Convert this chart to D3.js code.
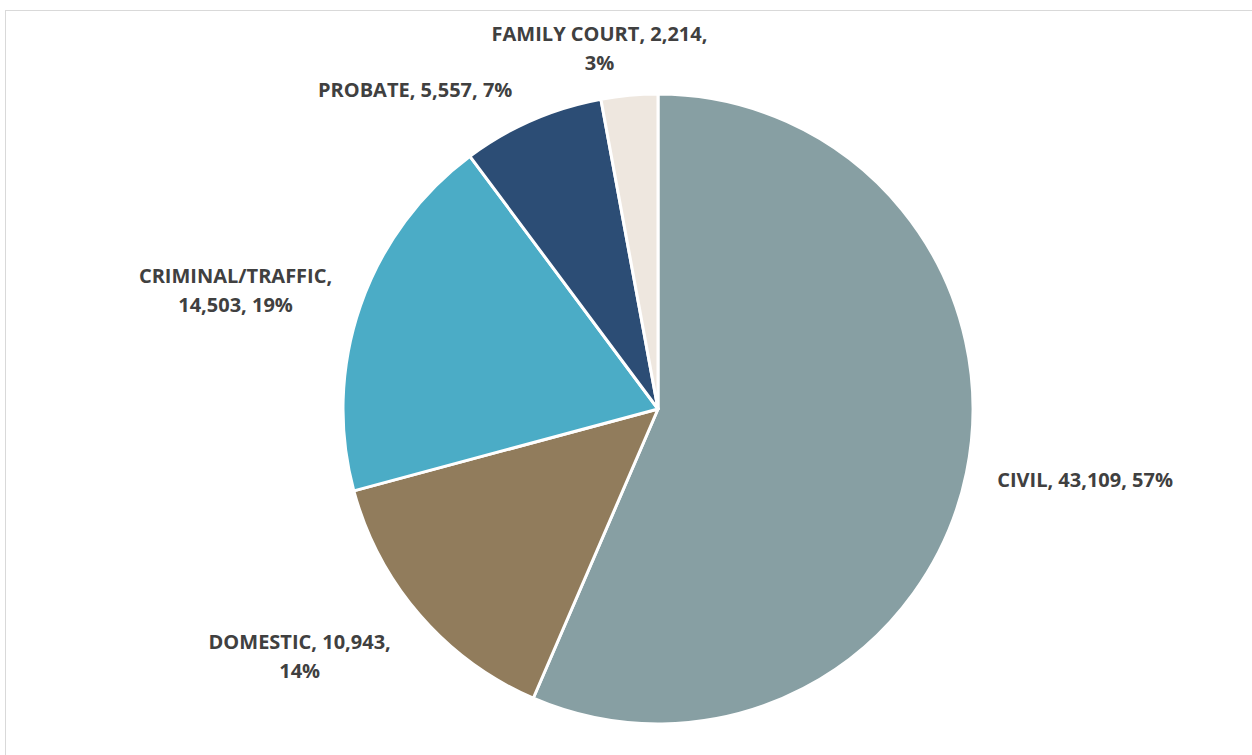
<!DOCTYPE html>
<html>
<head>
<meta charset="utf-8">
<script src="https://cdn.jsdelivr.net/npm/d3@7"></script>
<style>
  body { margin: 0; background: #fff; }
  svg { display: block; }
  .lbl { font-family: "Open Sans", Lato, sans-serif; font-weight: bold; font-size: 20px; fill: #404040; }
</style>
</head>
<body>
<svg id="chart" width="1252" height="755"></svg>
<script>
// case types, clockwise from 12 o'clock
var categories = ['CIVIL', 'DOMESTIC', 'CRIMINAL/TRAFFIC', 'PROBATE', 'FAMILY COURT'];
var values = [43109, 10943, 14503, 5557, 2214];
var colors = ['#879fa3', '#917c5c', '#4bacc6', '#2c4d75', '#eee7df'];
// how each label wraps (lines), as Excel drew it
var labelLines = [
    ['CIVIL, 43,109, 57%'],
    ['DOMESTIC, 10,943,', '14%'],
    ['CRIMINAL/TRAFFIC,', '14,503, 19%'],
    ['PROBATE, 5,557, 7%'],
    ['FAMILY COURT, 2,214,', '3%']
];
// offset of the label block centre from the point just outside the slice
var labelOffset = [[99, 3], [-105, 28], [-106, -9], [-109, -12], [-28, -27]];

const svg = d3.select('#chart');
const cx = 658, cy = 409, radius = 315;

// chart frame
svg.append('rect')
    .attr('x', 5.5).attr('y', 10.5)
    .attr('width', 1300).attr('height', 800)
    .attr('fill', 'none')
    .attr('stroke', '#d9d9d9')
    .attr('stroke-width', 1);

const data = categories.map(function (c, i) {
    return {name: c, value: values[i], color: colors[i], lines: labelLines[i], off: labelOffset[i]};
});

const pie = d3.pie().sort(null).value(function (d) { return d.value; });
const arc = d3.arc().innerRadius(0).outerRadius(radius);
const outer = d3.arc().innerRadius(radius + 20).outerRadius(radius + 20);

const g = svg.append('g').attr('transform', 'translate(' + cx + ',' + cy + ')');

g.selectAll('path')
    .data(pie(data))
    .enter().append('path')
    .attr('d', arc)
    .attr('fill', function (d) { return d.data.color; })
    .attr('stroke', '#fff')
    .attr('stroke-width', 3)
    .attr('stroke-linejoin', 'round');

const lineH = 29;
g.selectAll('text.lbl')
    .data(pie(data))
    .enter().append('text')
    .attr('class', 'lbl')
    .attr('text-anchor', 'middle')
    .each(function (d) {
        var p = outer.centroid(d);
        var x = p[0] + d.data.off[0];
        var yc = p[1] + d.data.off[1];
        var n = d.data.lines.length;
        var y0 = yc - (n - 1) * lineH / 2 + 7;
        var t = d3.select(this);
        d.data.lines.forEach(function (s, k) {
            t.append('tspan').attr('x', x).attr('y', y0 + k * lineH).text(s);
        });
    });
</script>
</body>
</html>
